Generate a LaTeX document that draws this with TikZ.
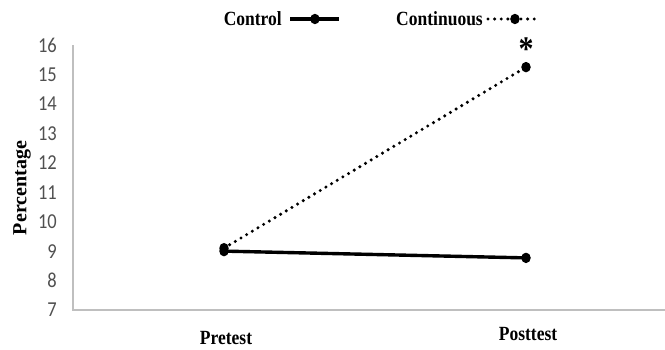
\documentclass[tikz,border=0pt]{standalone}
\usepackage{fontspec}
\setmainfont{Liberation Serif}
\newfontfamily\tickfont{Carlito}
\usetikzlibrary{positioning}
\usepackage{xcolor}
\definecolor{axisgray}{RGB}{191,191,191}
\definecolor{tickgray}{RGB}{80,80,80}

\begin{document}
\begin{tikzpicture}[x=1pt,y=1pt]
\tikzstyle{bold_txt} = [font=\bfseries\fontsize{17.5}{20}\selectfont, inner sep=0pt];
\tikzstyle{flat} = [yscale=1.15, transform shape];
\tikzstyle{tick_lbl} = [font=\tickfont\fontsize{18.5}{20}\selectfont, text=tickgray,
anchor=east, inner sep=0pt, flat];
\tikzstyle{dot} = [circle, fill=black, inner sep=0pt, minimum size=9.5pt, yscale=1.1, transform shape];
\tikzstyle{ctrl_line} = [draw, line width=3.4pt];
\tikzstyle{cont_line} = [draw, line width=3.4pt, line cap=round, dash pattern=on 0pt off 6.6pt];
\tikzstyle{axis_line} = [draw=axisgray, line width=1.4pt];

\useasboundingbox (0,0) rectangle (665,349);

% plot area, y in percent
\begin{scope}[xshift=73pt, yshift=-167.08pt, y=29.44pt]
\coordinate (origin) at (0,7);
\coordinate (ytop) at (0,16);
\coordinate (xend) at (592,7);
\path[axis_line] (ytop) -- (origin) -- (xend);
\foreach \v in {7,...,16}
  \node[tick_lbl] (tick\v) at (-16,\v) {\v};
% data points
\node[dot] (contpre) at (151,9.1) {};
\node[dot] (ctrlpre) at (151,9.0) {};
\node[dot] (ctrlpost) at (453,8.77) {};
\node[dot] (contpost) at (453,15.25) {};
\end{scope}

\path[ctrl_line] (ctrlpre.center) -- (ctrlpost.center);
\path[cont_line] (contpre.center) -- (contpost.center);
\node[bold_txt, flat, font=\bfseries\fontsize{30}{32}\selectfont, above=1pt of contpost] (star) {*};

% axis labels
\node[bold_txt, flat] (pre) at (226,11) {Pretest};
\node[bold_txt, flat] (post) at (528,15) {Posttest};
\node[bold_txt, font=\bfseries\fontsize{20}{22}\selectfont, rotate=90] (ylbl) at (22,161) {Percentage};

% legend
\node[bold_txt, flat, anchor=east] (ctrlkey) at (282,330) {Control};
\coordinate[right=8pt of ctrlkey] (ctrl_a);
\coordinate[right=49pt of ctrl_a] (ctrl_b);
\path[ctrl_line] (ctrl_a) -- (ctrl_b);
\node[dot, right=20pt of ctrl_a] (ctrlkeydot) {};
\node[bold_txt, flat, anchor=east] (contkey) at (483,330) {Continuous};
\coordinate[right=5pt of contkey] (cont_a);
\coordinate[right=48pt of cont_a] (cont_b);
\path[cont_line] (cont_a) -- (cont_b);
\node[dot, right=22pt of cont_a] (contkeydot) {};

\end{tikzpicture}
\end{document}
